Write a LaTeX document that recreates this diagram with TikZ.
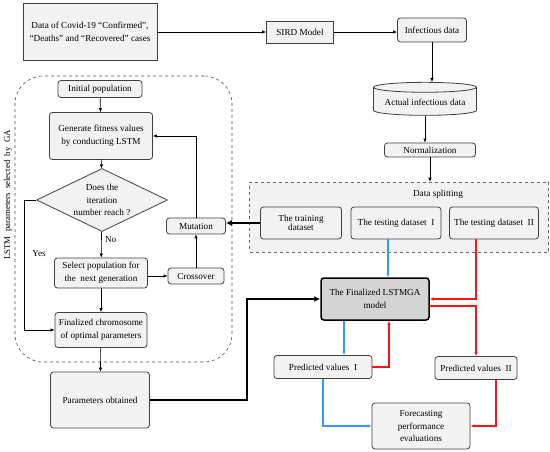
\documentclass[tikz,border=0pt]{standalone}
\usepackage{fontspec}
\setmainfont{Liberation Serif}
\usetikzlibrary{arrows.meta,shapes.geometric}
\definecolor{lineblue}{RGB}{51,153,255}
\definecolor{linered}{RGB}{255,20,20}

\begin{document}
\begin{tikzpicture}[x=1pt,y=-1pt,
  box/.style={rectangle, draw=black!75, rounded corners=3pt, fill=black!5,
              line width=0.8pt, inner sep=1pt, align=center,
              font=\fontsize{9.2}{13.5}\selectfont},
  plain/.style={box, rounded corners=0pt},
  lbl/.style={font=\fontsize{9.2}{13.5}\selectfont},
  arr/.style={-{Latex[length=4pt,width=3.5pt]}, line width=0.6pt},
  bigarr/.style={-{Latex[length=6pt,width=6pt]}, line width=2pt},
  bluearr/.style={arr, draw=lineblue, line width=1.2pt},
  redarr/.style={arr, draw=linered, line width=1.2pt},
]
  \useasboundingbox (0,0) rectangle (550,452);

  % data preparation
  \node[plain, minimum width=134, minimum height=57] (covid) at (90,32)
    {Data of Covid-19 “Confirmed”,\\“Deaths” and “Recovered” cases};
  \node[plain, minimum width=67, minimum height=22] (sird) at (300,32) {SIRD Model};
  \node[box, minimum width=69, minimum height=24] (infect) at (432,30) {Infectious data};
  \node[box, cylinder, rounded corners=0pt, shape border rotate=90, aspect=0.12,
        minimum width=103, minimum height=33] (actual) at (425,102) {Actual infectious data};
  \node[box, minimum width=91, minimum height=14] (norm) at (430,150) {Normalization};

  % data splitting
  \node[box, dashed, rounded corners=0pt, draw=black!60, line width=0.6pt,
        minimum width=299, minimum height=70] (split) at (399,217) {};
  \node[lbl] (splitlbl) at (438,194) {Data splitting};
  \node[box, minimum width=81, minimum height=32, font=\fontsize{9.2}{9}\selectfont]
    (train) at (301,223) {The training\\dataset};
  \node[box, minimum width=90, minimum height=32] (test1) at (396,223) {The testing dataset \ I};
  \node[box, minimum width=89, minimum height=32] (test2) at (494,223) {The testing dataset \ II};

  % model and evaluation
  \node[box, fill=black!17, draw=black, line width=1.5pt,
        minimum width=108, minimum height=42] (lstmga) at (375,299) {The Finalized LSTMGA\\model};
  \node[box, minimum width=98, minimum height=23] (pred1) at (323,367) {Predicted values \ I};
  \node[box, minimum width=82, minimum height=23] (pred2) at (476,368) {Predicted values \ II};
  \node[box, minimum width=98, minimum height=46, font=\fontsize{9.2}{12.5}\selectfont]
    (fore) at (421,426) {Forecasting\\performance\\evaluations};

  % genetic algorithm
  \node[draw=black!70, dashed, rounded corners=28pt, line width=0.6pt,
        minimum width=217, minimum height=286] (ga) at (123.5,219) {};
  \node[rotate=90, font=\fontsize{8.8}{10}\selectfont] (galbl) at (8,195)
    {LSTM \ parameters \ selected \ by \ GA};
  \node[box, minimum width=84, minimum height=17] (init) at (100,89) {Initial population};
  \node[box, minimum width=103, minimum height=47] (gen) at (101,136)
    {Generate fitness values\\by conducting LSTM};
  \node[box, diamond, rounded corners=0pt, aspect=2.1, inner sep=0pt,
        font=\fontsize{9.2}{12.5}\selectfont,
        minimum width=131, minimum height=63] (dia) at (102,200)
    {Does the\\iteration\\number reach ?};
  \node[box, minimum width=93, minimum height=30] (select) at (101,273)
    {Select population for\\the \ next generation};
  \node[box, minimum width=56, minimum height=16] (cross) at (196,276) {Crossover};
  \node[box, minimum width=59, minimum height=16] (mut) at (196,226) {Mutation};
  \node[box, minimum width=92, minimum height=35] (final) at (101,330)
    {Finalized chromosome\\of optimal parameters};
  \node[box, minimum width=99, minimum height=56] (params) at (100,400) {Parameters obtained};
  \node[lbl] (yes) at (39,254) {Yes};

  % connectors
  \draw[arr] (covid) -- (sird);
  \draw[arr] (sird.east) -- (sird.east -| infect.west);
  \draw[arr] (infect.south) -- (infect.south |- actual.north);
  \draw[arr] (actual.south) -- (actual.south |- norm.north);
  \draw[arr] (norm.south) -- (norm.south |- split.north);
  \draw[bigarr] (train.west) -- (train.west -| mut.east);

  \draw[bluearr] ([xshift=-8pt]test1.south) -- ([xshift=13pt]lstmga.north);
  \draw[redarr] ([xshift=-18pt]test2.south) |- (lstmga.east);
  \draw[redarr] ([yshift=-7pt]lstmga.east) -| (pred2.north);
  \draw[bluearr] ([xshift=-31pt]lstmga.south) -- ([xshift=21pt]pred1.north);
  \draw[redarr] (pred1.east) -| ([xshift=14pt]lstmga.south);
  \draw[bluearr] (pred1.south) |- (fore.west);
  \draw[redarr] ([xshift=20pt]pred2.south) |- (fore.east);
  \draw[bigarr, line width=2.2pt] (params.east) -- ++(97,0) |- (lstmga.west);

  \draw[arr] (init) -- (gen);
  \draw[arr] (gen) -- (dia);
  \draw[arr] (dia) -- node[pos=0.3, right, lbl] (no) {No} (select);
  \draw[arr] (select.east |- cross.west) -- (cross.west);
  \draw[arr] (cross) -- (mut);
  \draw[arr] (mut.north) |- (gen.east);
  \draw[arr] (dia.west) -- ++(-12,0) |- (final.west);
  \draw[arr] (select) -- (final);
  \draw[arr] (final) -- (params);
\end{tikzpicture}
\end{document}
